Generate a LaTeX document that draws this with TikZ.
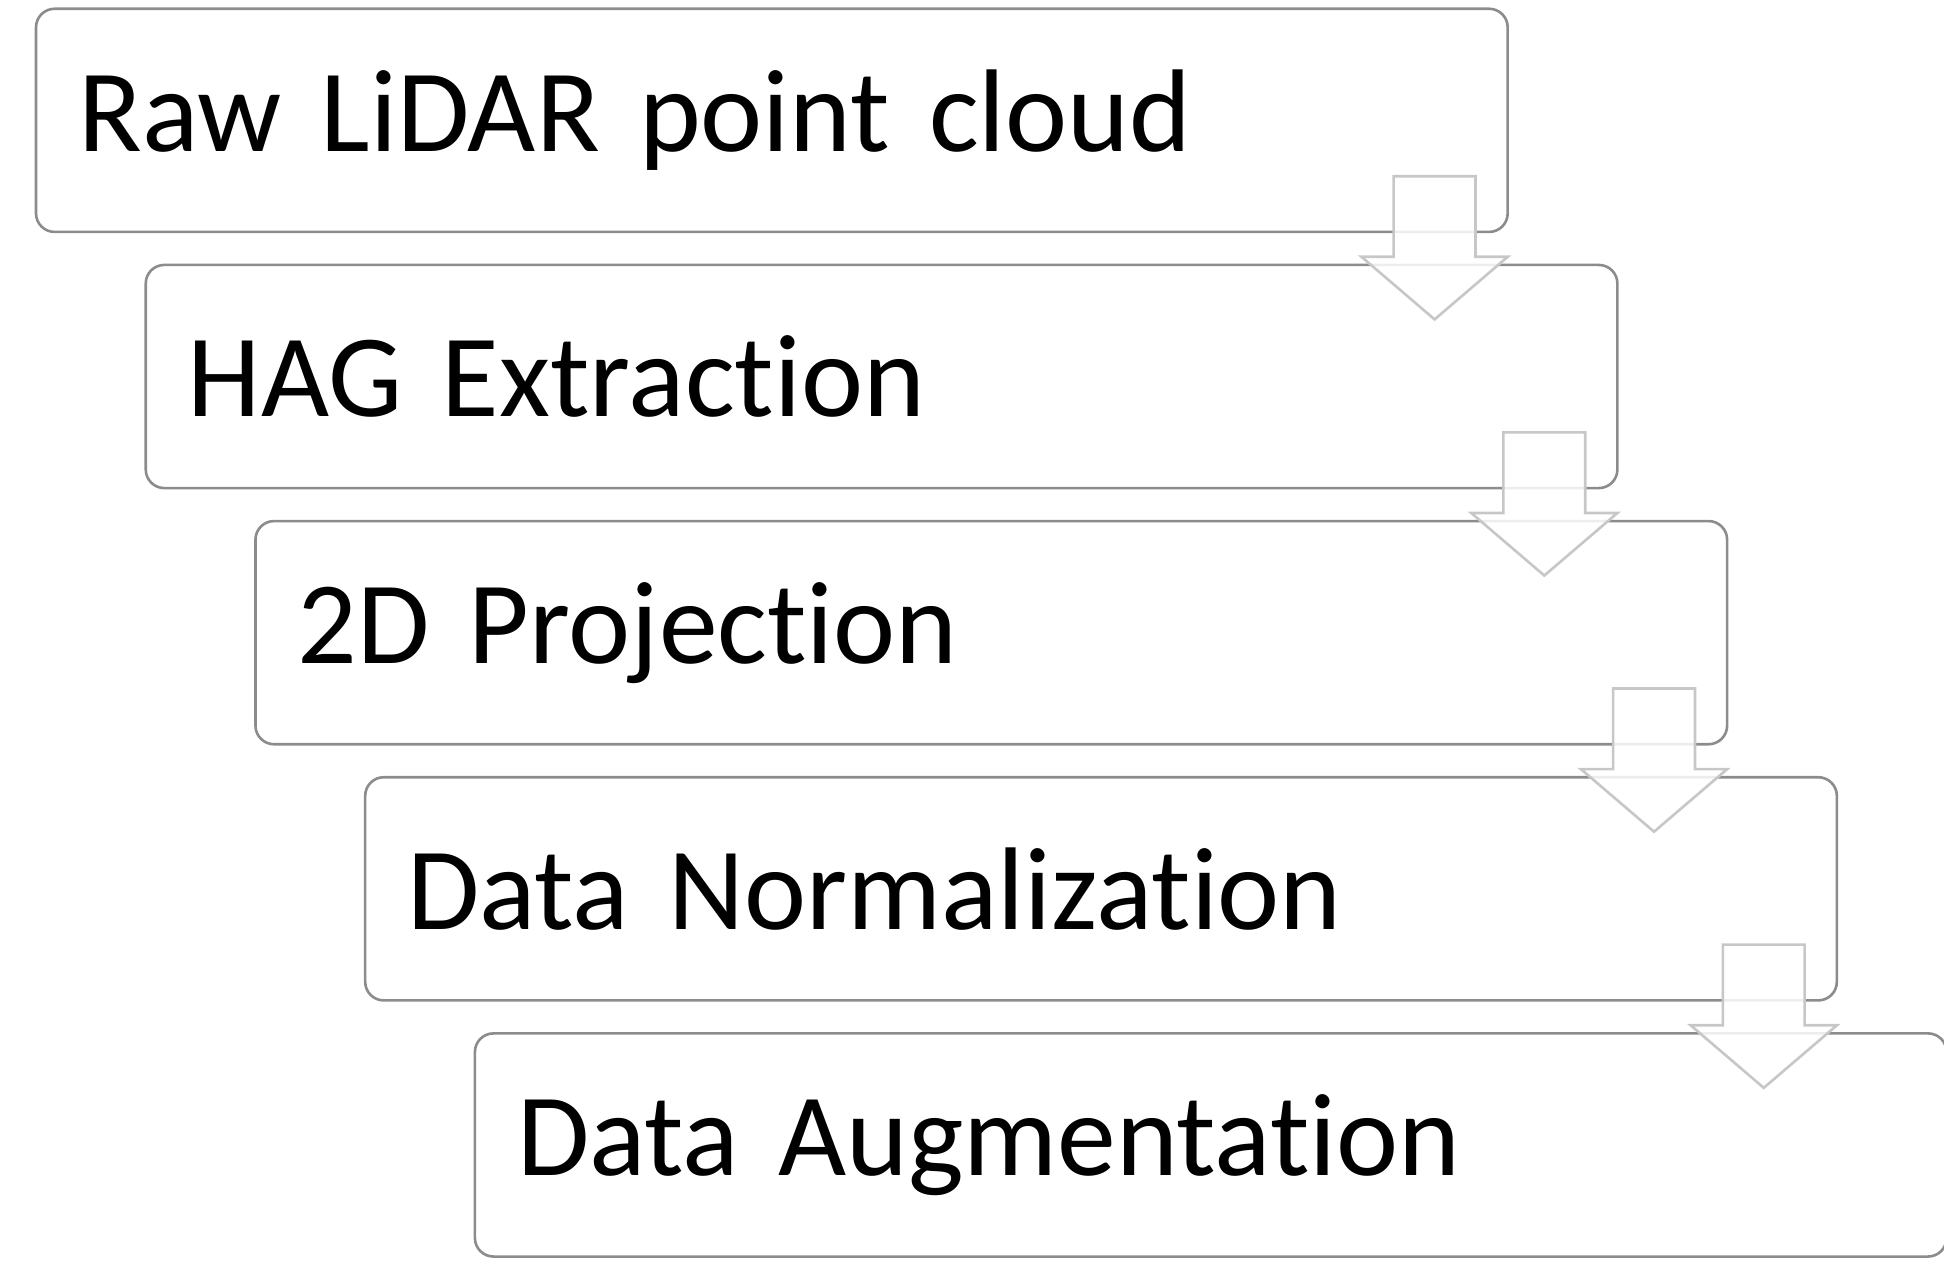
\documentclass[tikz,border=0pt]{standalone}
\usepackage{fontspec}
\setmainfont{Carlito}[Ligatures=NoCommon]
\usepackage{tikz}
\usetikzlibrary{positioning,calc}

\begin{document}
\begin{tikzpicture}
    % Colors
    \colorlet{boxcolor}{black!45}
    \colorlet{arrowcolor}{black!22}

    % Styles
    \tikzstyle{stage}=[draw=boxcolor,line width=0.6pt,rounded corners=0.15cm,
      minimum width=11.87cm,minimum height=1.80cm,text width=11.19cm,
      inner xsep=0.34cm,align=left,font=\fontsize{27}{32}\selectfont]
    \tikzstyle{block arrow}=[draw=arrowcolor,line width=0.6pt,fill=white,
      fill opacity=0.85,line join=miter]

    \useasboundingbox (0,0) rectangle (15.68,-10.38);

    % The graphic
    \node[stage,anchor=north west] (raw) at (0.28,-0.06) {Raw LiDAR point cloud};
    \node[stage,below=0.245cm of raw,xshift=0.885cm] (hag) {HAG Extraction};
    \node[stage,below=0.245cm of hag,xshift=0.885cm] (proj) {2D Projection};
    \node[stage,below=0.245cm of proj,xshift=0.885cm] (norm) {Data Normalization};
    \node[stage,below=0.245cm of norm,xshift=0.885cm] (aug) {Data Augmentation};

    \foreach \a/\b in {raw/hag, hag/proj, proj/norm, norm/aug}
      \draw[style=block arrow]
        ($(\a.south east)+(-0.93,0.46)$) -- ($(\a.south east)+(-0.27,0.46)$)
        -- ($(\a.south east)+(-0.27,-0.19)$) -- ($(\a.south east)+(-0.01,-0.19)$)
        -- ($(\b.north east)+(-1.485,-0.45)$)
        -- ($(\a.south east)+(-1.19,-0.19)$) -- ($(\a.south east)+(-0.93,-0.19)$)
        -- cycle;

  \end{tikzpicture}
\end{document}
